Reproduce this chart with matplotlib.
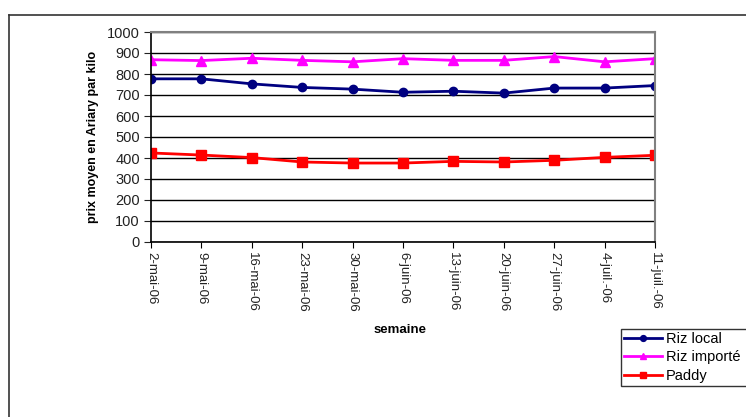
import numpy as np
import matplotlib.pyplot as plt
from matplotlib.lines import Line2D

plt.rcParams['font.family'] = ['Liberation Sans', 'DejaVu Sans']

semaines = ['2-mai-06', '9-mai-06', '16-mai-06', '23-mai-06', '30-mai-06', '6-juin-06',
            '13-juin-06', '20-juin-06', '27-juin-06', '4-juil.-06', '11-juil.-06']
riz_local = [777, 777, 753, 736, 728, 713, 718, 709, 733, 733, 745]
riz_importe = [868, 864, 875, 865, 858, 873, 865, 865, 883, 858, 873]
paddy = [424, 414, 402, 381, 376, 376, 384, 381, 389, 403, 413]

fig = plt.figure(figsize=(7.46, 4.17), dpi=100)

# cadre exterieur (coupe a droite et en bas)
fig.add_artist(Line2D([9/746, 1.0], [1-15/417, 1-15/417], color='#333333', lw=1.2,
                      transform=fig.transFigure))
fig.add_artist(Line2D([9/746, 9/746], [1-15/417, 0.0], color='#333333', lw=1.2,
                      transform=fig.transFigure))

ax = fig.add_axes([151/746, 1-242/417, 504/746, 210/417])
x = np.arange(len(semaines))

ax.plot(x, riz_local, color='#000080', marker='o', ms=6, lw=2, label='Riz local')
ax.plot(x, riz_importe, color='#FF00FF', marker='^', ms=7, lw=2, label='Riz importé')
ax.plot(x, paddy, color='#FF0000', marker='s', ms=7, lw=2, label='Paddy')

ax.set_xlim(0, len(semaines) - 1)
ax.set_ylim(0, 1000)
ax.set_yticks(np.arange(0, 1001, 100))
ax.set_xticks(x)
ax.set_xticklabels(semaines, rotation=270, fontsize=9.5, color='#222222')
ax.tick_params(axis='y', labelsize=10.5, length=5, direction='out', colors='#222222', pad=3)
ax.tick_params(axis='x', length=4, direction='out')
ax.yaxis.grid(True, color='black', lw=1)
ax.set_axisbelow(True)

for s in ['left', 'bottom']:
    ax.spines[s].set_color('black')
    ax.spines[s].set_linewidth(1.2)
for s in ['top', 'right']:
    ax.spines[s].set_color('#808080')
    ax.spines[s].set_linewidth(1.5)

ax.set_ylabel('prix moyen en Ariary par kilo', fontsize=9, fontweight='bold', labelpad=6)
fig.text(400/746, 1-330/417, 'semaine', fontsize=9.5, fontweight='bold', ha='center', va='center')

# la legende depasse le bord droit, comme dans l'original
leg = fig.legend(loc='upper left', bbox_to_anchor=(621/746, 1-390/417, 220/746, 61/417),
                 mode='expand', fontsize=10.5, frameon=True, fancybox=False, edgecolor='black',
                 handlelength=2.6, markerscale=0.7, borderpad=0.2, labelspacing=0.3,
                 handletextpad=0.3, borderaxespad=0)
leg.get_frame().set_linewidth(1)

fig.savefig('out.png', dpi=100)
